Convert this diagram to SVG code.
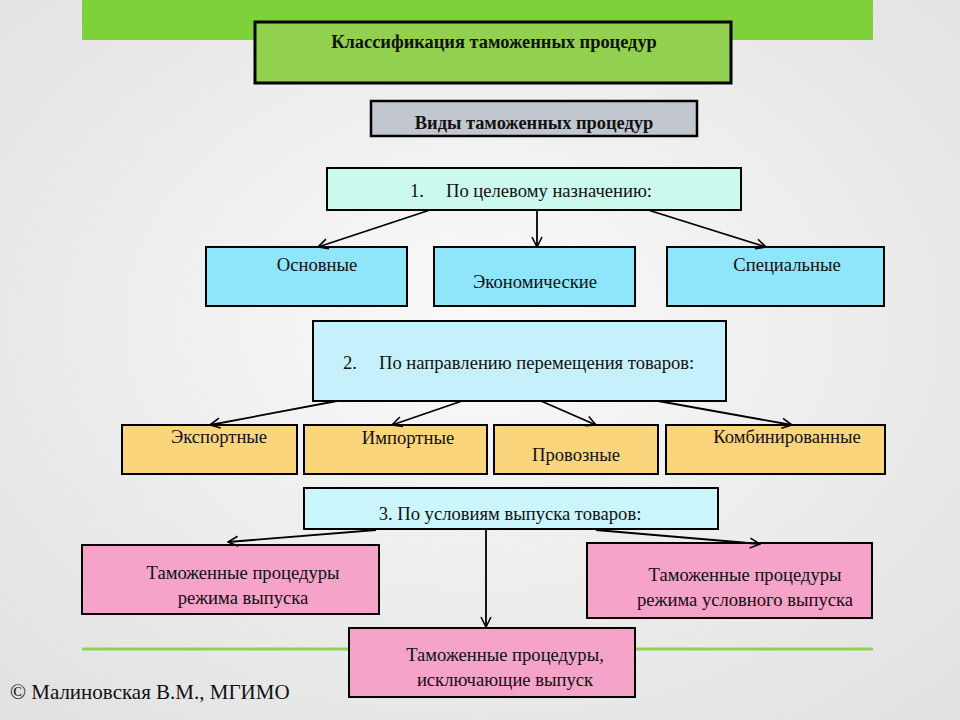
<svg xmlns="http://www.w3.org/2000/svg" width="960" height="720" viewBox="0 0 960 720">
<defs>
<radialGradient id="bg" cx="50%" cy="45%" r="70%">
<stop offset="0" stop-color="#fafafa"/>
<stop offset="1" stop-color="#e2e2e2"/>
</radialGradient>
<marker id="ah" viewBox="0 0 12 12" refX="11" refY="6" markerWidth="12" markerHeight="12" markerUnits="userSpaceOnUse" orient="auto">
<polyline points="1,1 11,6 1,11" fill="none" stroke="#000" stroke-width="1.6"/>
</marker>
<style>
.b{stroke:#000;stroke-width:2}
.t{font-family:"Liberation Serif","Times New Roman",serif;font-size:18.6px;fill:#111}
.tb{font-family:"Liberation Serif","Times New Roman",serif;font-size:18.4px;font-weight:bold;fill:#111}
.c{text-anchor:middle}
.blue{fill:#8ee6fa}
.or{fill:#fbd57c}
.pk{fill:#f5a3c8}
.con line{stroke:#000;stroke-width:1.8;marker-end:url(#ah)}
</style>
</defs>
<rect width="960" height="720" fill="url(#bg)"/>
<rect x="82" y="0" width="791" height="40" fill="#7fd13b"/>
<line x1="82" y1="649" x2="873" y2="649" stroke="#8fd14f" stroke-width="3"/>

<g id="title">
<rect x="255" y="22" width="476" height="61" fill="#92d050" stroke="#000" stroke-width="3"/>
<text class="tb c" x="494" y="48">Классификация таможенных процедур</text>
</g>
<g id="kinds">
<rect x="371" y="101" width="326" height="35" fill="#c2c6ce" stroke="#000" stroke-width="2.5"/>
<text class="tb c" x="534" y="129">Виды таможенных процедур</text>
</g>

<g id="g1">
<rect class="b" x="327" y="168" width="414" height="42" fill="#ccfaee"/>
<text class="t" x="410" y="197">1.<tspan x="446">По целевому назначению:</tspan></text>
</g>
<g id="osn"><rect class="b blue" x="206" y="247" width="201" height="59"/><text class="t c" x="317" y="271">Основные</text></g>
<g id="eco"><rect class="b blue" x="434" y="247" width="201" height="59"/><text class="t c" x="535" y="288">Экономические</text></g>
<g id="spec"><rect class="b blue" x="667" y="247" width="217" height="59"/><text class="t c" x="787" y="271">Специальные</text></g>

<g id="g2">
<rect class="b" x="313" y="321" width="413" height="80" fill="#c6f1fc"/>
<text class="t" x="343" y="369">2.<tspan x="379">По направлению перемещения товаров:</tspan></text>
</g>
<g id="exp"><rect class="b or" x="122" y="425" width="175" height="49"/><text class="t c" x="219" y="443">Экспортные</text></g>
<g id="imp"><rect class="b or" x="304" y="425" width="183" height="49"/><text class="t c" x="408" y="444">Импортные</text></g>
<g id="prov"><rect class="b or" x="494" y="425" width="164" height="49"/><text class="t c" x="576" y="461">Провозные</text></g>
<g id="komb"><rect class="b or" x="666" y="425" width="219" height="49"/><text class="t c" x="787" y="443">Комбинированные</text></g>

<g id="g3">
<rect class="b" x="304" y="488" width="414" height="41" fill="#ccf6fd"/>
<text class="t c" x="510" y="520">3. По условиям выпуска товаров:</text>
</g>
<g id="rel"><rect class="b pk" x="82" y="545" width="297" height="69"/><text class="t c" x="243" y="579">Таможенные процедуры</text><text class="t c" x="243" y="604">режима выпуска</text></g>
<g id="cond"><rect class="b pk" x="587" y="543" width="285" height="75"/><text class="t c" x="745" y="581">Таможенные процедуры</text><text class="t c" x="745" y="606">режима условного выпуска</text></g>
<g id="excl"><rect class="b pk" x="349" y="628" width="286" height="69"/><text class="t c" x="505" y="661">Таможенные процедуры,</text><text class="t c" x="505" y="686">исключающие выпуск</text></g>

<g id="connectors" class="con">
<line x1="430" y1="210" x2="318" y2="247"/>
<line x1="537" y1="210" x2="537" y2="247"/>
<line x1="648" y1="210" x2="766" y2="247"/>
<line x1="337" y1="401" x2="210" y2="425"/>
<line x1="462" y1="401" x2="392" y2="425"/>
<line x1="541" y1="401" x2="596" y2="425"/>
<line x1="658" y1="401" x2="792" y2="425"/>
<line x1="376" y1="530" x2="228" y2="542"/>
<line x1="596" y1="530" x2="760" y2="544"/>
<line x1="486" y1="530" x2="486" y2="627"/>
</g>

<text x="10" y="699" style="font-family:'Liberation Serif','Times New Roman',serif;font-size:21px;fill:#111">© Малиновская В.М., МГИМО</text>
</svg>
